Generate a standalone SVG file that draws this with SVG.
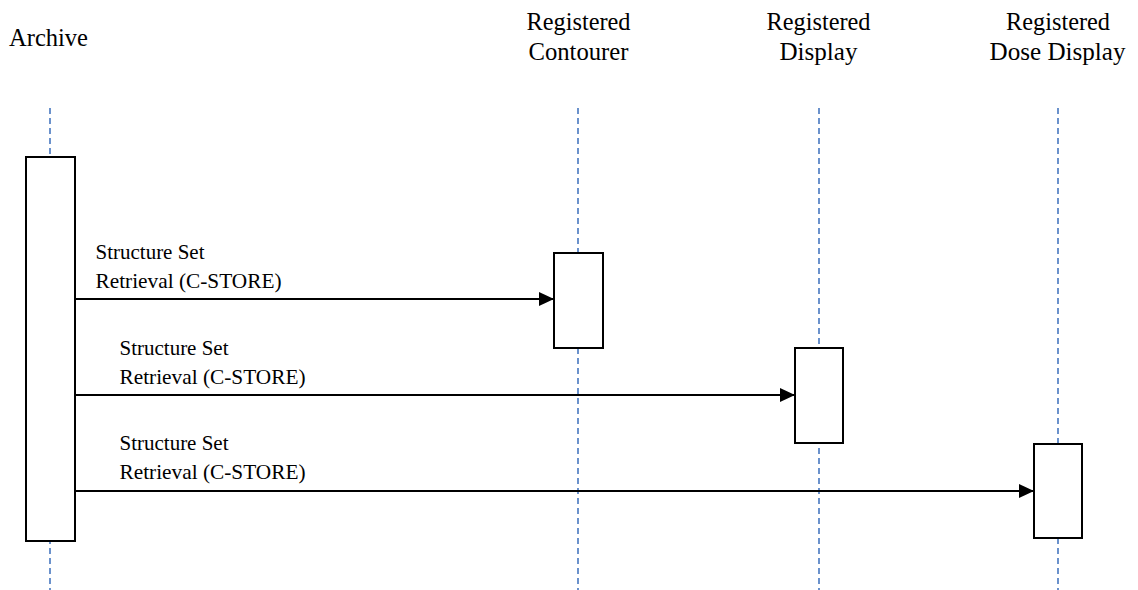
<svg xmlns="http://www.w3.org/2000/svg" width="1138" height="590" viewBox="0 0 1138 590">
<style>
.life{stroke:#4677c0;stroke-width:1.6;stroke-dasharray:6,4;fill:none}
.act{fill:#fff;stroke:#000;stroke-width:2}
.hdr{font-family:'Liberation Serif','Times New Roman',Tinos,'Nimbus Roman','FreeSerif','Noto Serif','DejaVu Serif',serif;font-size:25px;fill:#000}
.lbl{font-family:'Liberation Serif','Times New Roman',Tinos,'Nimbus Roman','FreeSerif','Noto Serif','DejaVu Serif',serif;font-size:21px;fill:#000}
.msg{stroke:#000;stroke-width:2;fill:none}
</style>
<defs>
<marker id="ah" markerWidth="16" markerHeight="14" refX="15" refY="7" orient="auto" markerUnits="userSpaceOnUse">
<path d="M0,0 L15,7 L0,14 Z" fill="#000"/>
</marker>
</defs>
<g id="lifelines">
<line class="life" x1="50" y1="108" x2="50" y2="590"/>
<line class="life" x1="578" y1="108" x2="578" y2="590"/>
<line class="life" x1="819" y1="108" x2="819" y2="590"/>
<line class="life" x1="1058" y1="108" x2="1058" y2="590"/>
</g>
<g id="archive">
<text class="hdr" x="9" y="46" textLength="79" lengthAdjust="spacingAndGlyphs">Archive</text>
<rect class="act" x="26" y="157" width="49" height="384"/>
</g>
<g id="contourer">
<text class="hdr" x="578.5" y="30" text-anchor="middle" textLength="104" lengthAdjust="spacingAndGlyphs">Registered</text>
<text class="hdr" x="578.5" y="60" text-anchor="middle" textLength="100" lengthAdjust="spacingAndGlyphs">Contourer</text>
<rect class="act" x="554" y="253" width="49" height="95"/>
</g>
<g id="display">
<text class="hdr" x="818.5" y="30" text-anchor="middle" textLength="104" lengthAdjust="spacingAndGlyphs">Registered</text>
<text class="hdr" x="818.5" y="60" text-anchor="middle" textLength="78" lengthAdjust="spacingAndGlyphs">Display</text>
<rect class="act" x="795" y="348" width="48" height="95"/>
</g>
<g id="dosedisplay">
<text class="hdr" x="1058" y="30" text-anchor="middle" textLength="104" lengthAdjust="spacingAndGlyphs">Registered</text>
<text class="hdr" x="1057.5" y="60" text-anchor="middle" textLength="136" lengthAdjust="spacingAndGlyphs">Dose Display</text>
<rect class="act" x="1034" y="444" width="48" height="94"/>
</g>
<g id="connectors">
<line class="msg" x1="75" y1="299" x2="554" y2="299" marker-end="url(#ah)"/>
<text class="lbl" x="95.5" y="259" textLength="109" lengthAdjust="spacingAndGlyphs">Structure Set</text>
<text class="lbl" x="95.5" y="288" textLength="186" lengthAdjust="spacingAndGlyphs">Retrieval (C-STORE)</text>
<line class="msg" x1="75" y1="395" x2="795" y2="395" marker-end="url(#ah)"/>
<text class="lbl" x="119.5" y="355" textLength="109" lengthAdjust="spacingAndGlyphs">Structure Set</text>
<text class="lbl" x="119.5" y="384" textLength="186" lengthAdjust="spacingAndGlyphs">Retrieval (C-STORE)</text>
<line class="msg" x1="75" y1="491" x2="1034" y2="491" marker-end="url(#ah)"/>
<text class="lbl" x="119.5" y="450" textLength="109" lengthAdjust="spacingAndGlyphs">Structure Set</text>
<text class="lbl" x="119.5" y="479" textLength="186" lengthAdjust="spacingAndGlyphs">Retrieval (C-STORE)</text>
</g>
</svg>
